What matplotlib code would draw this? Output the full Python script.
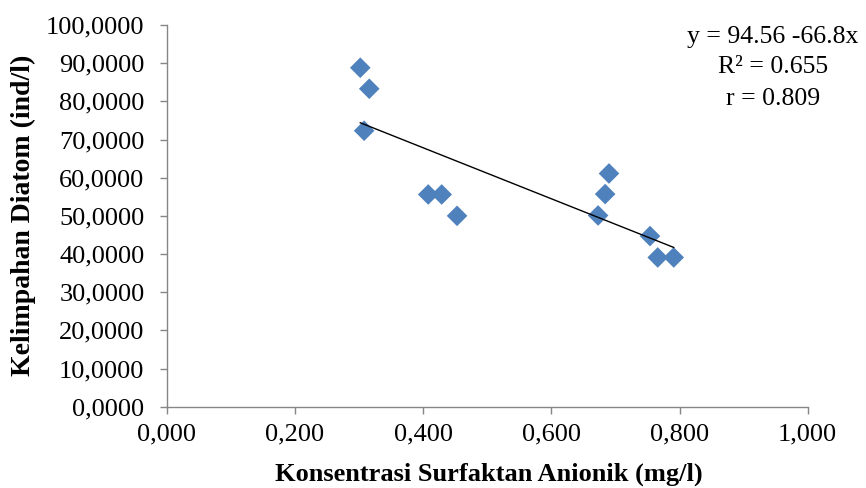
import matplotlib
matplotlib.use("Agg")
import matplotlib.pyplot as plt
import numpy as np
from matplotlib.ticker import FuncFormatter, MultipleLocator

# Data
surfaktan = [0.302, 0.316, 0.308, 0.408, 0.429, 0.453, 0.690, 0.684, 0.673, 0.754, 0.766, 0.791]
kelimpahan = [88.8, 83.3, 72.3, 55.6, 55.6, 50.0, 61.1, 55.7, 50.1, 44.7, 39.1, 39.1]
intercept = 94.56
slope = -66.8
eq_lines = ["y = 94.56 -66.8x", "R\u00b2 = 0.655", "r = 0.809"]

plt.rcParams['font.family'] = ['Liberation Serif', 'DejaVu Serif']

fig = plt.figure(figsize=(8.66, 4.88), dpi=100)
ax = fig.add_axes([166.7/866, 1-406.7/488, 641/866, (406.7-25)/488])

ax.scatter(surfaktan, kelimpahan, marker='D', s=10.5**2, color='#4F81BD',
           edgecolors='none', zorder=2)
xs = np.array([min(surfaktan), max(surfaktan)])
ax.plot(xs, intercept + slope*xs, color='black', lw=1.0, zorder=3)

ax.set_xlim(0, 1.0)
ax.set_ylim(0, 100)
ax.xaxis.set_major_locator(MultipleLocator(0.2))
ax.yaxis.set_major_locator(MultipleLocator(10))
ax.xaxis.set_major_formatter(FuncFormatter(lambda v, p: f"{v:.3f}".replace('.', ',')))
ax.yaxis.set_major_formatter(FuncFormatter(lambda v, p: f"{v:.4f}".replace('.', ',')))

for s in ['top', 'right']:
    ax.spines[s].set_visible(False)
for s in ['left', 'bottom']:
    ax.spines[s].set_color('#868686')
    ax.spines[s].set_linewidth(1.0)
ax.tick_params(axis='both', direction='out', length=5, width=1.0, color='#868686',
               labelsize=19, labelcolor='black')
ax.tick_params(axis='y', pad=11)
ax.tick_params(axis='x', pad=7)

ax.set_xlabel("Konsentrasi Surfaktan Anionik (mg/l)", fontsize=19, fontweight='bold')
ax.xaxis.label.set_va('baseline')
ax.xaxis.set_label_coords(0.502, (406.7-480.5)/381.7)
ax.set_ylabel("Kelimpahan Diatom (ind/l)", fontsize=20, fontweight='bold')
ax.yaxis.set_label_coords((36-166.7)/641, 0.502)

ys = [36.7, 66.7, 99]
for t, yy in zip(eq_lines, ys):
    fig.text(773/866, 1-yy/488, t, ha='center', va='center', fontsize=18.5)

fig.savefig("out.png", dpi=100)
